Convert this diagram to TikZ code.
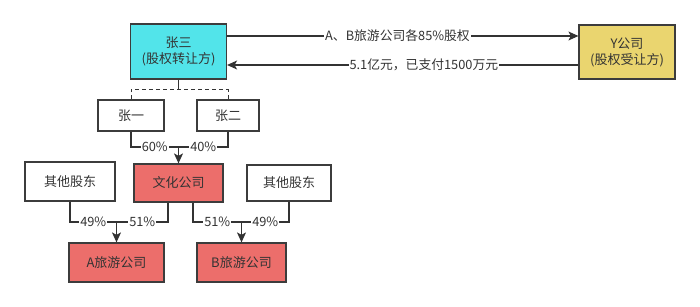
\documentclass[tikz,border=0pt]{standalone}
\usepackage{fontspec}
\setmainfont{Noto Sans CJK SC}
\usetikzlibrary{arrows.meta,positioning,calc}
\definecolor{ink}{HTML}{333333}
\definecolor{rim}{HTML}{3C3C3C}
\definecolor{seller}{HTML}{52E4EA}
\definecolor{buyer}{HTML}{EAD56F}
\definecolor{firm}{HTML}{EC6E6B}

\begin{document}
\begin{tikzpicture}[x=1pt,y=-1pt,font=\fontsize{13}{16}\selectfont,text=ink,
  every node/.style={inner sep=0pt,align=center},
  box/.style={draw=rim,line width=1.2pt,fill=white},
  pct/.style={fill=white,inner sep=0.8pt,font=\fontsize{12.8}{14}\selectfont},
  link/.style={draw=ink,line width=1.1pt},
  arr/.style={link,-{Stealth[length=10pt,width=9pt,inset=2.5pt]}}]
\useasboundingbox (0,0) rectangle (700,307);
% top row
\node[box,fill=seller,minimum width=96pt,minimum height=55pt] (zs) at (178.5,51.5) {张三\\(股权转让方)};
\node[box,fill=buyer,minimum width=96pt,minimum height=54pt] (yc) at (627,52) {Y公司\\(股权受让方)};
\draw[arr] ([yshift=15.5pt]zs.east) -- ([yshift=15.5pt]zs.east -| yc.west)
  node[pct,pos=0.485] {A、B旅游公司各85\%股权};
\draw[arr] ([yshift=-13.5pt]zs.east -| yc.west) -- ([yshift=-13.5pt]zs.east)
  node[pct,pos=0.44] {5.1亿元，已支付1500万元};
% shareholders of 张三's side
\node[box,minimum width=66pt,minimum height=31pt] (z1) at (131,115.5) {张一};
\node[box,minimum width=62pt,minimum height=31pt] (z2) at (228,115.5) {张二};
\draw[link] (zs.south) -- ++(0,10) coordinate (sp);
\draw[link,line width=1pt,dash pattern=on 4pt off 3pt] (z1.north) |- (sp) -| (z2.north);
\node[box,fill=firm,minimum width=89pt,minimum height=38pt] (wh) at (178.5,183) {文化公司};
\coordinate (m1) at (178.5,147);
\draw[link] (z1.south) |- (m1) node[pct,pos=0.75] {60\%};
\draw[link] (z2.south) |- (m1) node[pct,pos=0.75] {40\%};
\draw[arr] (m1) -- (wh.north);
% tourism firms
\node[box,minimum width=90pt,minimum height=39pt] (o1) at (70,181.5) {其他股东};
\node[box,minimum width=84pt,minimum height=36pt] (o2) at (289,183) {其他股东};
\node[box,fill=firm,minimum width=95pt,minimum height=39pt] (ta) at (116.5,262.5) {A旅游公司};
\node[box,fill=firm,minimum width=89pt,minimum height=39pt] (tb) at (241.5,262.5) {B旅游公司};
\coordinate (ma) at (116.5,222);
\coordinate (mb) at (241.5,222);
\draw[link] (o1.south) |- (ma) node[pct,pos=0.75] {49\%};
\draw[link] ([xshift=-10.5pt]wh.south) |- (ma) node[pct,pos=0.75] {51\%};
\draw[arr] (ma) -- (ta.north);
\draw[link] ([xshift=14.5pt]wh.south) |- (mb) node[pct,pos=0.75] {51\%};
\draw[link] (o2.south) |- (mb) node[pct,pos=0.75] {49\%};
\draw[arr] (mb) -- (tb.north);
\end{tikzpicture}
\end{document}
